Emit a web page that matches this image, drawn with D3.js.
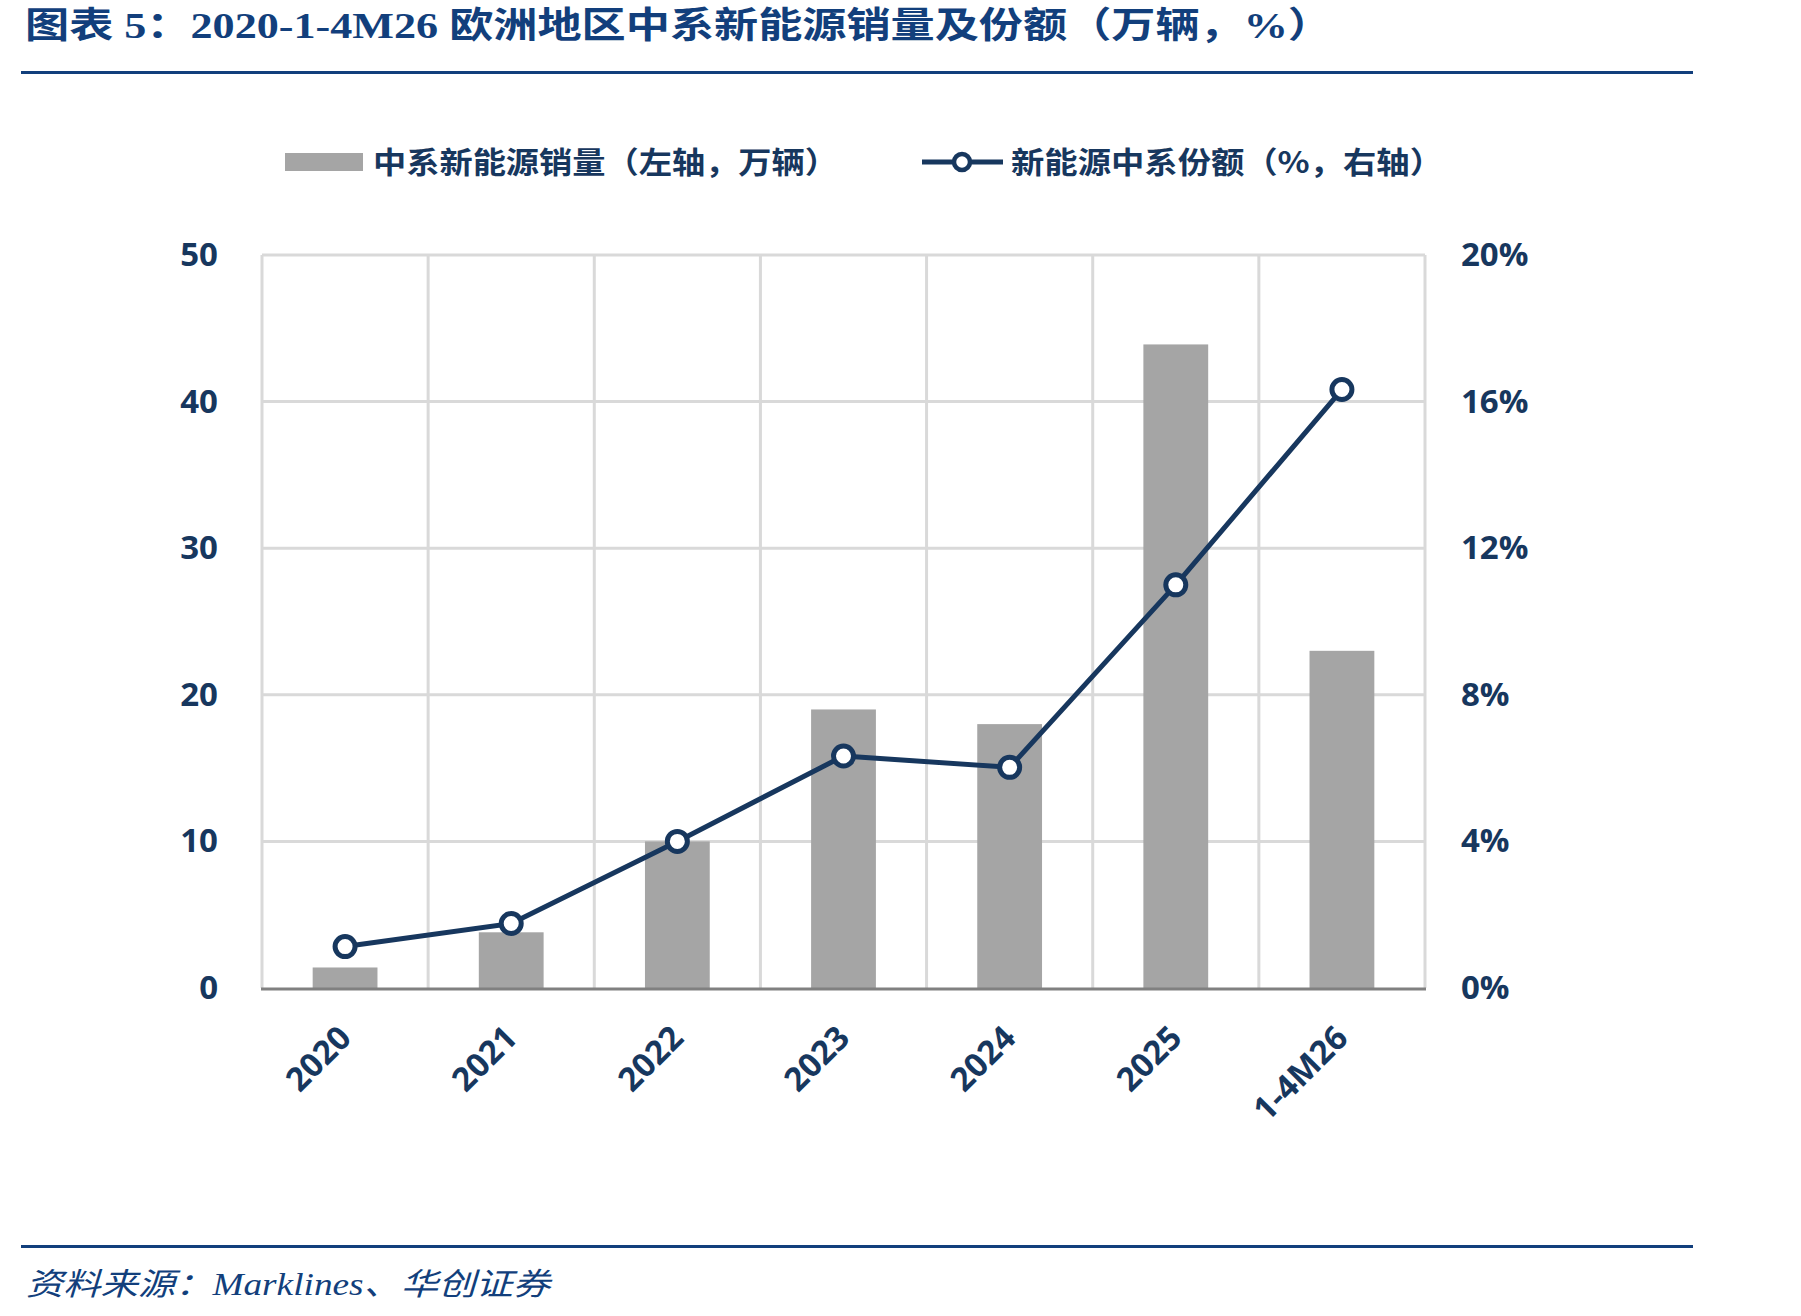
<!DOCTYPE html>
<html>
<head>
<meta charset="utf-8">
<script src="https://cdn.jsdelivr.net/npm/d3@7"></script>
<style>
  body { margin: 0; background: #fff; }
  svg { display: block; }
</style>
</head>
<body>
<svg id="chart" width="1801" height="1316"></svg>
<script>
// data
const categories = ['2020', '2021', '2022', '2023', '2024', '2025', '1-4M26'];
const salesValues = [1.4, 3.8, 10.0, 19.0, 18.0, 43.9, 23.0];   // 万辆, left axis
const shareValues = [1.13, 1.76, 4.0, 6.33, 6.02, 11.0, 16.33]; // %, right axis
const leftTicks = [0, 10, 20, 30, 40, 50];
const rightTicks = [0, 4, 8, 12, 16, 20];

const navy = '#17375E';
const titleBlue = '#123F7C';
const grid = '#D9D9D9';
const barGray = '#A5A5A5';
const numFont = '"Open Sans", "Noto Sans CJK SC", sans-serif';
const cjkFont = '"Noto Sans CJK SC", "Open Sans", sans-serif';

const svg = d3.select('#chart');

// title + rules
svg.append('text')
  .attr('x', 25).attr('y', 38)
  .attr('font-family', '"Liberation Serif", "Noto Sans CJK SC", serif')
  .attr('font-weight', 'bold')
  .attr('font-size', 36)
  .attr('textLength', 1307).attr('lengthAdjust', 'spacingAndGlyphs')
  .attr('fill', titleBlue)
  .text('图表 5：2020-1-4M26 欧洲地区中系新能源销量及份额（万辆，%）');

svg.append('rect').attr('x', 21).attr('y', 71).attr('width', 1672).attr('height', 3).attr('fill', titleBlue);
svg.append('rect').attr('x', 21).attr('y', 1245).attr('width', 1672).attr('height', 3).attr('fill', titleBlue);

svg.append('text')
  .attr('x', 26).attr('y', 1295)
  .attr('font-family', '"Liberation Serif", "Noto Sans CJK SC", serif')
  .attr('font-style', 'italic')
  .attr('font-size', 31)
  .attr('textLength', 524).attr('lengthAdjust', 'spacingAndGlyphs')
  .attr('fill', titleBlue)
  .text('资料来源：Marklines、华创证券');

// plot area
const margin = { top: 255, left: 262 };
const width = 1425 - 262, height = 988 - 255;

const x = d3.scaleBand().domain(categories).range([0, width]).paddingInner(0).paddingOuter(0);
const yL = d3.scaleLinear().domain([0, 50]).range([height, 0]);
const yR = d3.scaleLinear().domain([0, 20]).range([height, 0]);

const g = svg.append('g').attr('transform', `translate(${margin.left},${margin.top})`);

// horizontal gridlines
g.append('g')
  .selectAll('line')
  .data(leftTicks.slice(1))
  .enter().append('line')
  .attr('x1', 0).attr('x2', width)
  .attr('y1', d => yL(d)).attr('y2', d => yL(d))
  .attr('stroke', grid).attr('stroke-width', 3);

// vertical gridlines (category boundaries)
const bounds = categories.map(c => x(c)).concat([width]);
g.append('g')
  .selectAll('line')
  .data(bounds)
  .enter().append('line')
  .attr('x1', d => d).attr('x2', d => d)
  .attr('y1', 0).attr('y2', height)
  .attr('stroke', grid).attr('stroke-width', 3);

// bars
const barW = x.bandwidth() * 0.39;
g.selectAll('.bar')
  .data(salesValues)
  .enter().append('rect')
  .attr('class', 'bar')
  .attr('x', (d, i) => x(categories[i]) + (x.bandwidth() - barW) / 2)
  .attr('y', d => yL(d))
  .attr('width', barW)
  .attr('height', d => height - yL(d))
  .attr('fill', barGray);

// bottom axis line
g.append('line')
  .attr('x1', -1).attr('x2', width + 1)
  .attr('y1', height + 1).attr('y2', height + 1)
  .attr('stroke', '#808080').attr('stroke-width', 3);

// left axis
const leftAxis = g.append('g')
  .call(d3.axisLeft(yL).tickValues(leftTicks).tickSize(0).tickPadding(44));
leftAxis.select('.domain').remove();
leftAxis.selectAll('text')
  .attr('font-family', numFont).attr('font-weight', 'bold')
  .attr('font-size', 33).attr('fill', navy);

// right axis
const rightAxis = g.append('g')
  .attr('transform', `translate(${width},0)`)
  .call(d3.axisRight(yR).tickValues(rightTicks).tickSize(0).tickPadding(36).tickFormat(d => d + '%'));
rightAxis.select('.domain').remove();
rightAxis.selectAll('text')
  .attr('font-family', numFont).attr('font-weight', 'bold')
  .attr('font-size', 33).attr('fill', navy);

// x axis labels rotated
const xAxis = g.append('g')
  .attr('transform', `translate(0,${height})`)
  .call(d3.axisBottom(x).tickSize(0).tickPadding(0));
xAxis.select('.domain').remove();
xAxis.selectAll('text')
  .attr('font-family', numFont).attr('font-weight', 'bold')
  .attr('font-size', 33).attr('fill', navy)
  .attr('text-anchor', 'end')
  .attr('dy', 0)
  .attr('transform', 'translate(8,52) rotate(-45)');

// share line
const line = d3.line()
  .x((d, i) => x(categories[i]) + x.bandwidth() / 2)
  .y(d => yR(d));
g.append('path')
  .datum(shareValues)
  .attr('d', line)
  .attr('fill', 'none')
  .attr('stroke', navy)
  .attr('stroke-width', 5)
  .attr('stroke-linejoin', 'round');

g.selectAll('.dot')
  .data(shareValues)
  .enter().append('circle')
  .attr('class', 'dot')
  .attr('cx', (d, i) => x(categories[i]) + x.bandwidth() / 2)
  .attr('cy', d => yR(d))
  .attr('r', 10)
  .attr('fill', '#fff')
  .attr('stroke', navy)
  .attr('stroke-width', 5);

// legend
const leg = svg.append('g');
leg.append('rect').attr('x', 285).attr('y', 153).attr('width', 78).attr('height', 18).attr('fill', barGray);
leg.append('text')
  .attr('x', 373).attr('y', 162).attr('dy', '0.35em')
  .attr('font-family', cjkFont).attr('font-weight', 'bold')
  .attr('font-size', 30).attr('fill', navy)
  .attr('textLength', 465).attr('lengthAdjust', 'spacingAndGlyphs')
  .text('中系新能源销量（左轴，万辆）');

leg.append('line').attr('x1', 922).attr('x2', 1003).attr('y1', 162).attr('y2', 162)
  .attr('stroke', navy).attr('stroke-width', 5);
leg.append('circle').attr('cx', 962).attr('cy', 162).attr('r', 8)
  .attr('fill', '#fff').attr('stroke', navy).attr('stroke-width', 4.5);
leg.append('text')
  .attr('x', 1011).attr('y', 162).attr('dy', '0.35em')
  .attr('font-family', cjkFont).attr('font-weight', 'bold')
  .attr('font-size', 30).attr('fill', navy)
  .attr('textLength', 432).attr('lengthAdjust', 'spacingAndGlyphs')
  .text('新能源中系份额（%，右轴）');
</script>
</body>
</html>
